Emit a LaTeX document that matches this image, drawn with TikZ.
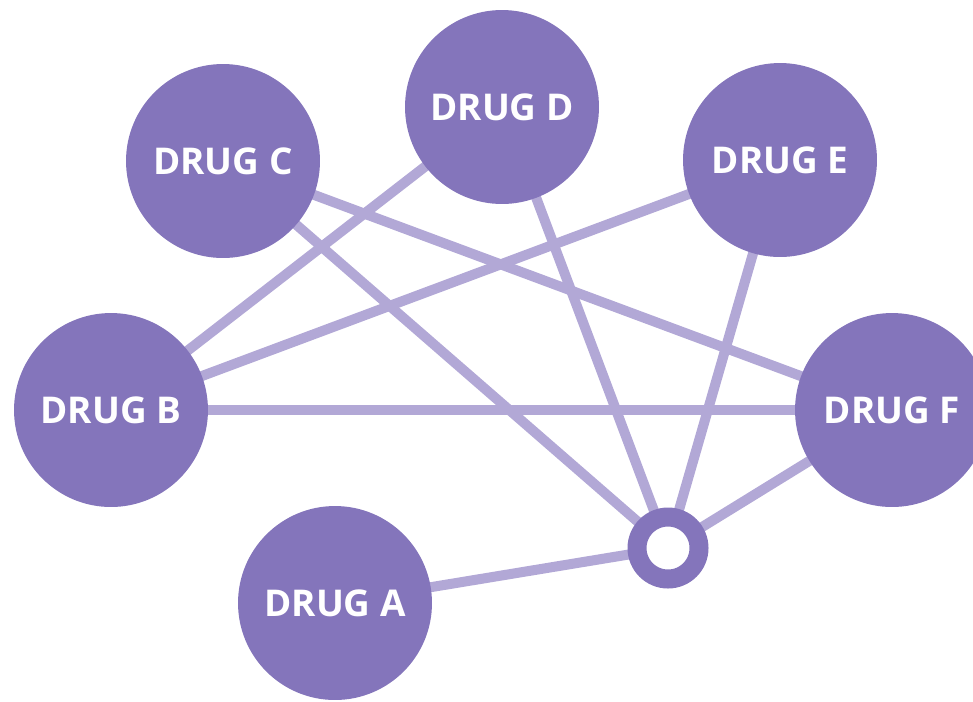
\documentclass[tikz,border=0pt]{standalone}
\usepackage{fontspec}
\setmainfont{Open Sans}
\usepackage{tikz}
\usetikzlibrary{backgrounds}
\usepackage{xcolor}

\definecolor{drugfill}{HTML}{8475BB}
\definecolor{linkline}{HTML}{B2A8D6}

\tikzset{
  drug/.style={circle, fill=drugfill, minimum size=3.88cm, inner sep=0pt,
    text=white, font=\fontsize{21}{25}\selectfont\bfseries},
  hub/.style={circle, draw=drugfill, fill=white, line width=0.38cm,
    minimum size=1.24cm, inner sep=0pt},
  link/.style={linkline, line width=0.2cm}
}

\begin{document}
\begin{tikzpicture}[x=0.02cm, y=-0.02cm]
\useasboundingbox (0,0) rectangle (973,701);

\node[drug] (drugC) at (223,161) {DRUG C};
\node[drug] (drugD) at (502,107) {DRUG D};
\node[drug] (drugE) at (780,160) {DRUG E};
\node[drug] (drugB) at (111,410) {DRUG B};
\node[drug] (drugF) at (892,410) {DRUG F};
\node[drug] (drugA) at (335,603) {DRUG A};
\node[hub] (hub) at (668,548) {};

% links
\begin{scope}[on background layer]
\draw[link] (drugC.center) -- (hub.center);
\draw[link] (drugC.center) -- (drugF.center);
\draw[link] (drugD.center) -- (drugB.center);
\draw[link] (drugD.center) -- (hub.center);
\draw[link] (drugE.center) -- (drugB.center);
\draw[link] (drugE.center) -- (hub.center);
\draw[link] (drugB.center) -- (drugF.center);
\draw[link] (drugF.center) -- (hub.center);
\draw[link] (drugA.center) -- (hub.center);
\end{scope}

\end{tikzpicture}
\end{document}
